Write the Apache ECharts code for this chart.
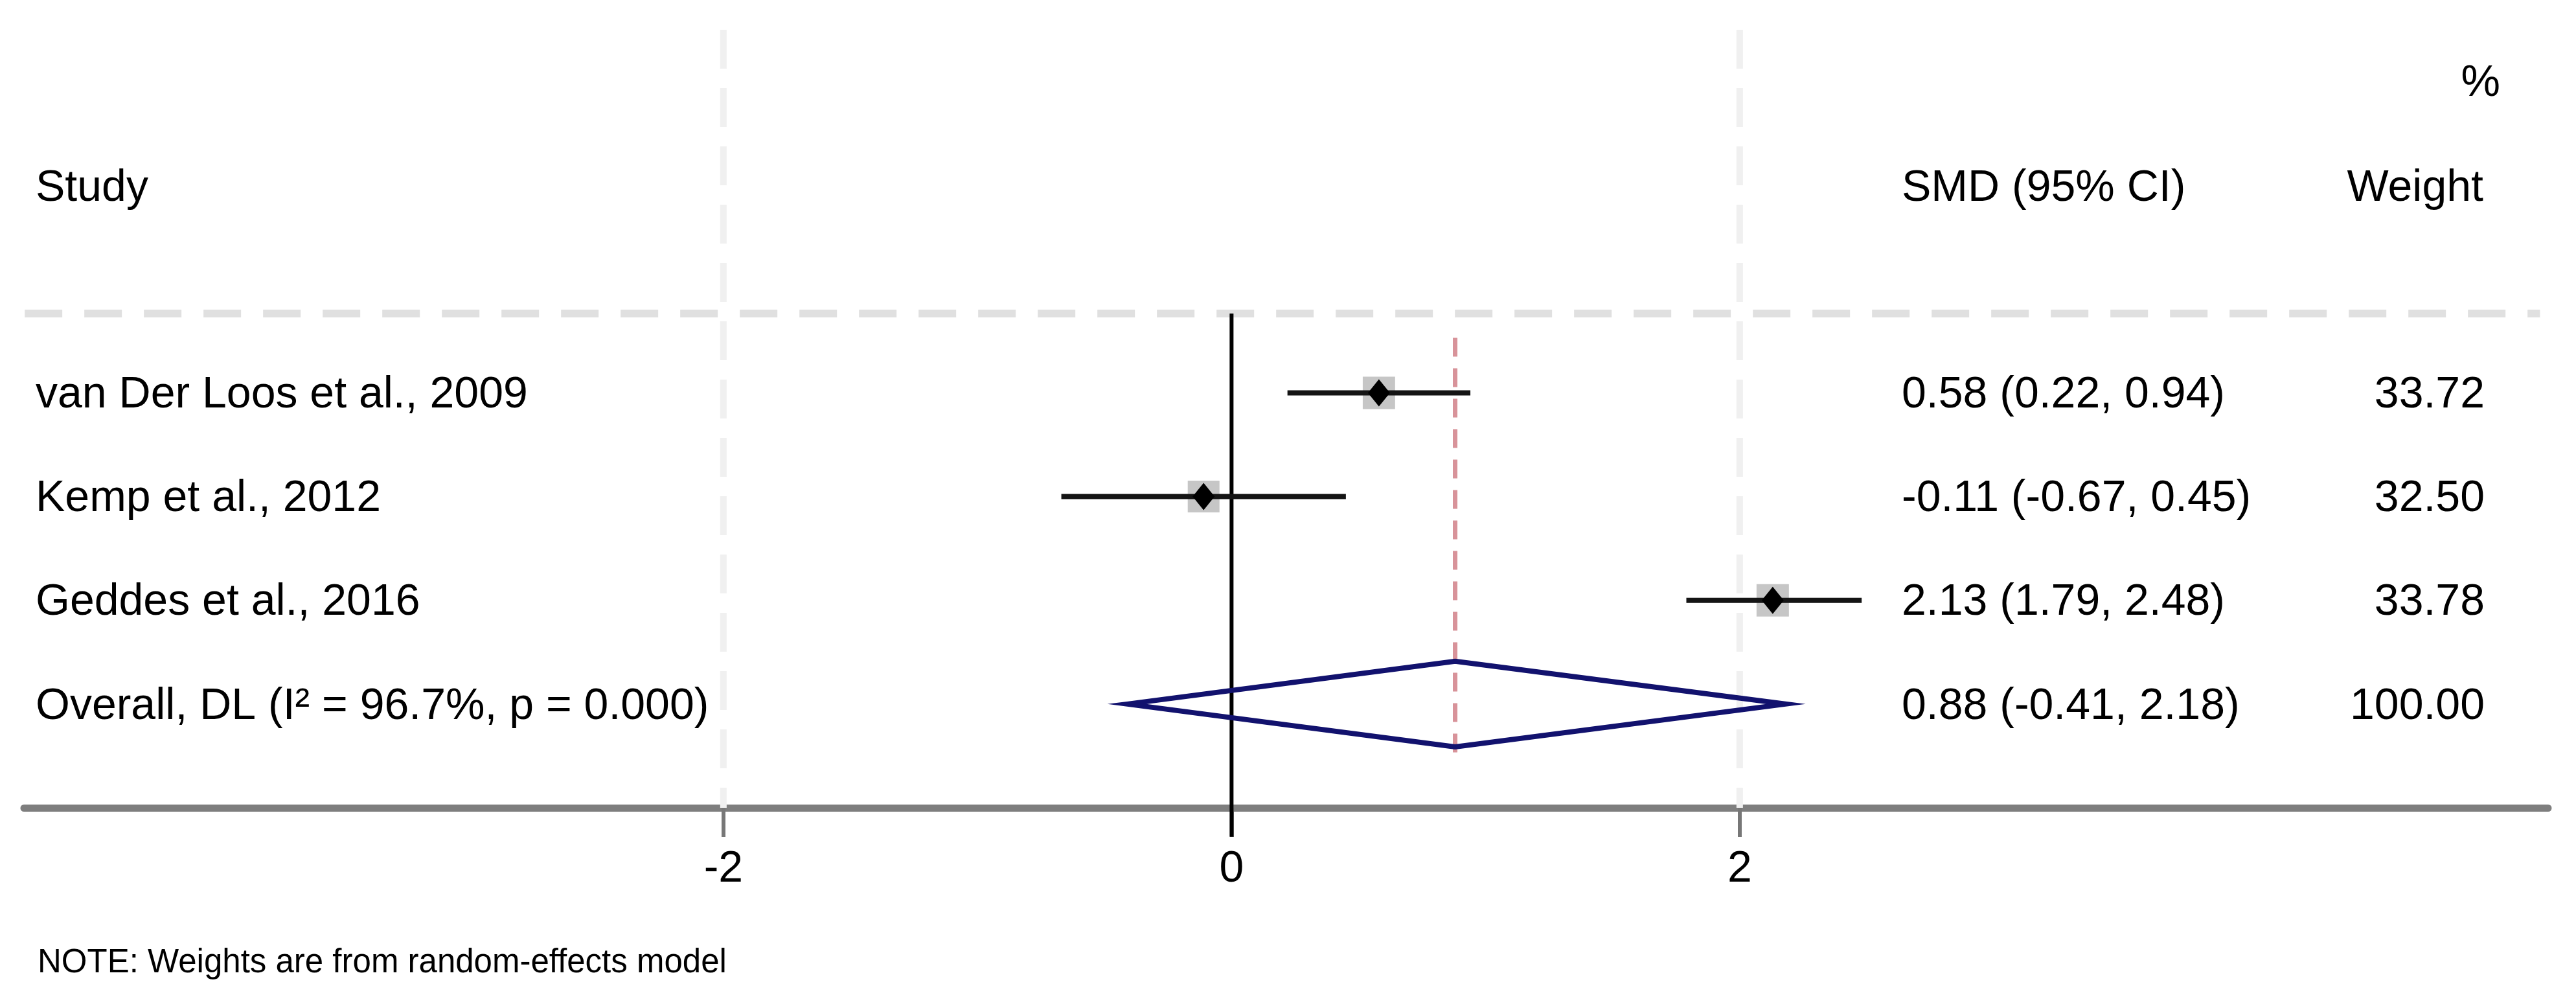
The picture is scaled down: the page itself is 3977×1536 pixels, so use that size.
<!DOCTYPE html>
<html>
<head>
<meta charset="utf-8">
<script src="https://cdn.jsdelivr.net/npm/echarts@6/dist/echarts.min.js"></script>
<style>
  html, body { margin: 0; padding: 0; background: #fff; }
  #chart { width: 3977px; height: 1536px; }
</style>
</head>
<body>
<div id="chart"></div>
<script>
// forest plot data
var studies = ['van Der Loos et al., 2009', 'Kemp et al., 2012', 'Geddes et al., 2016'];
var smd = [0.58, -0.11, 2.13];
var ciLow = [0.22, -0.67, 1.79];
var ciHigh = [0.94, 0.45, 2.48];
var weights = [33.72, 32.50, 33.78];

var overallLabel = 'Overall, DL (I\u00b2 = 96.7%, p = 0.000)';
var overallEs = 0.88;
var overallLow = -0.41;
var overallHigh = 2.18;
var overallWeight = 100.00;

var tickValues = [-2, 0, 2];
var noteText = 'NOTE: Weights are from random-effects model';

var FONT = 'Liberation Sans, Arial, Helvetica, sans-serif';
var FS = 68;

function fmt(v) { return v.toFixed(2); }

function esText(e, l, h) {
    return fmt(e) + ' (' + fmt(l) + ', ' + fmt(h) + ')';
}

// rows: 1..3 studies, 4 overall
var rowData = [];
for (var i = 0; i < studies.length; i++) {
    rowData.push([i + 1, smd[i], ciLow[i], ciHigh[i], weights[i]]);
}
var overallRow = studies.length + 1;

var labels = studies.concat([overallLabel]);
var esLabels = [];
var wLabels = [];
for (var k = 0; k < studies.length; k++) {
    esLabels.push(esText(smd[k], ciLow[k], ciHigh[k]));
    wLabels.push(fmt(weights[k]));
}
esLabels.push(esText(overallEs, overallLow, overallHigh));
wLabels.push(fmt(overallWeight));

function txt(x, y, s, align, size) {
    return {
        type: 'text', x: x, y: y,
        style: {
            text: s, fill: '#000', fontSize: size || FS, fontFamily: FONT,
            align: align || 'left', verticalAlign: 'middle'
        }
    };
}

// background lines + headers
function renderFrame(params, api) {
    var children = [];
    // faint dashed gridlines at ticks (not at 0)
    tickValues.forEach(function (t) {
        if (t === 0) return;
        var a = api.coord([t, -2.5]), b = api.coord([t, 5]);
        children.push({
            type: 'line', shape: {x1: a[0], y1: a[1], x2: b[0], y2: b[1]},
            style: {stroke: '#f0f0f0', lineWidth: 10, lineDash: [60, 30]}
        });
    });
    // dashed separator under the header
    var h1 = api.coord([-4.75, 0.235]), h2 = api.coord([5.15, 0.235]);
    children.push({
        type: 'line', shape: {x1: h1[0], y1: h1[1], x2: h2[0], y2: h2[1]},
        style: {stroke: '#e0e0e0', lineWidth: 12, lineDash: [58, 34]}
    });
    // overall effect line
    var r1 = api.coord([overallEs, 0.47]), r2 = api.coord([overallEs, 4.51]);
    children.push({
        type: 'line', shape: {x1: r1[0], y1: r1[1], x2: r2[0], y2: r2[1]},
        style: {stroke: '#d8939a', lineWidth: 7, lineDash: [29, 18]}
    });
    // null line
    var z1 = api.coord([0, 0.235]), z2 = api.coord([0, 5.28]);
    children.push({
        type: 'line', shape: {x1: z1[0], y1: z1[1], x2: z2[0], y2: z2[1]},
        style: {stroke: '#000', lineWidth: 6}
    });
    // headers
    var yH = api.coord([0, -0.97])[1];
    var yP = api.coord([0, -1.98])[1];
    children.push(txt(55, yH, 'Study'));
    children.push(txt(2936, yH, 'SMD (95% CI)'));
    children.push(txt(3834, yH, 'Weight', 'right'));
    children.push(txt(3860, yP, '%', 'right'));
    return {type: 'group', children: children};
}

function renderStudy(params, api) {
    var row = api.value(0), est = api.value(1), lo = api.value(2), hi = api.value(3), w = api.value(4);
    var pE = api.coord([est, row]);
    var pL = api.coord([lo, row]);
    var pH = api.coord([hi, row]);
    var box = Math.sqrt(w) * 8.6;
    return {
        type: 'group',
        children: [
            {type: 'rect', shape: {x: pE[0] - box / 2, y: pE[1] - box / 2, width: box, height: box},
             style: {fill: '#c6c6c6'}},
            {type: 'line', shape: {x1: pL[0], y1: pL[1], x2: pH[0], y2: pH[1]},
             style: {stroke: '#141414', lineWidth: 8}},
            {type: 'polygon', shape: {points: [
                [pE[0], pE[1] - 21], [pE[0] + 17, pE[1]], [pE[0], pE[1] + 21], [pE[0] - 17, pE[1]]]},
             style: {fill: '#000'}}
        ]
    };
}

function renderOverall(params, api) {
    var row = api.value(0);
    var pE = api.coord([api.value(1), row]);
    var pL = api.coord([api.value(2), row]);
    var pH = api.coord([api.value(3), row]);
    var hh = 66;
    return {
        type: 'polygon',
        shape: {points: [[pL[0], pL[1]], [pE[0], pE[1] - hh], [pH[0], pH[1]], [pE[0], pE[1] + hh]]},
        style: {fill: 'none', stroke: '#12126e', lineWidth: 8, lineJoin: 'miter'}
    };
}

function renderTable(params, api) {
    var idx = params.dataIndex;
    var y = api.coord([0, api.value(0)])[1] + 4;
    return {
        type: 'group',
        children: [
            txt(55, y, labels[idx]),
            txt(2936, y, esLabels[idx]),
            txt(3836, y, wLabels[idx], 'right')
        ]
    };
}

var tableData = [];
for (var r = 1; r <= labels.length; r++) tableData.push([r]);

var myChart = echarts.init(document.getElementById('chart'), null, {renderer: 'canvas'});
var option = {
    backgroundColor: '#fff',
    animation: false,
    grid: {left: 37, right: 43, top: 46, bottom: 289},
    xAxis: {
        type: 'value',
        min: -4.753,
        max: 5.182,
        splitLine: {show: false},
        axisLine: {show: true, onZero: false, lineStyle: {color: '#7e7e7e', width: 11}},
        axisTick: {show: true, customValues: tickValues, length: 45, lineStyle: {color: '#777', width: 6}},
        axisLabel: {
            customValues: tickValues, fontSize: FS, fontFamily: FONT, color: '#000',
            margin: 61, lineHeight: 68,
            formatter: function (v) { return String(v); }
        }
    },
    yAxis: {
        type: 'value',
        min: -2.5,
        max: 5,
        inverse: true,
        show: false
    },
    graphic: [{
        type: 'text', x: 58, y: 1487,
        style: {text: noteText, fill: '#000', fontSize: 51, fontFamily: FONT, verticalAlign: 'middle'}
    }],
    series: [
        {type: 'custom', name: 'frame', renderItem: renderFrame, data: [[0, 0]], z: 1, silent: true},
        {type: 'custom', name: 'studies', renderItem: renderStudy, data: rowData, z: 3},
        {type: 'custom', name: 'overall', renderItem: renderOverall,
         data: [[overallRow, overallEs, overallLow, overallHigh]], z: 2},
        {type: 'custom', name: 'table', renderItem: renderTable, data: tableData, z: 4, silent: true}
    ]
};
myChart.setOption(option);
</script>
</body>
</html>
